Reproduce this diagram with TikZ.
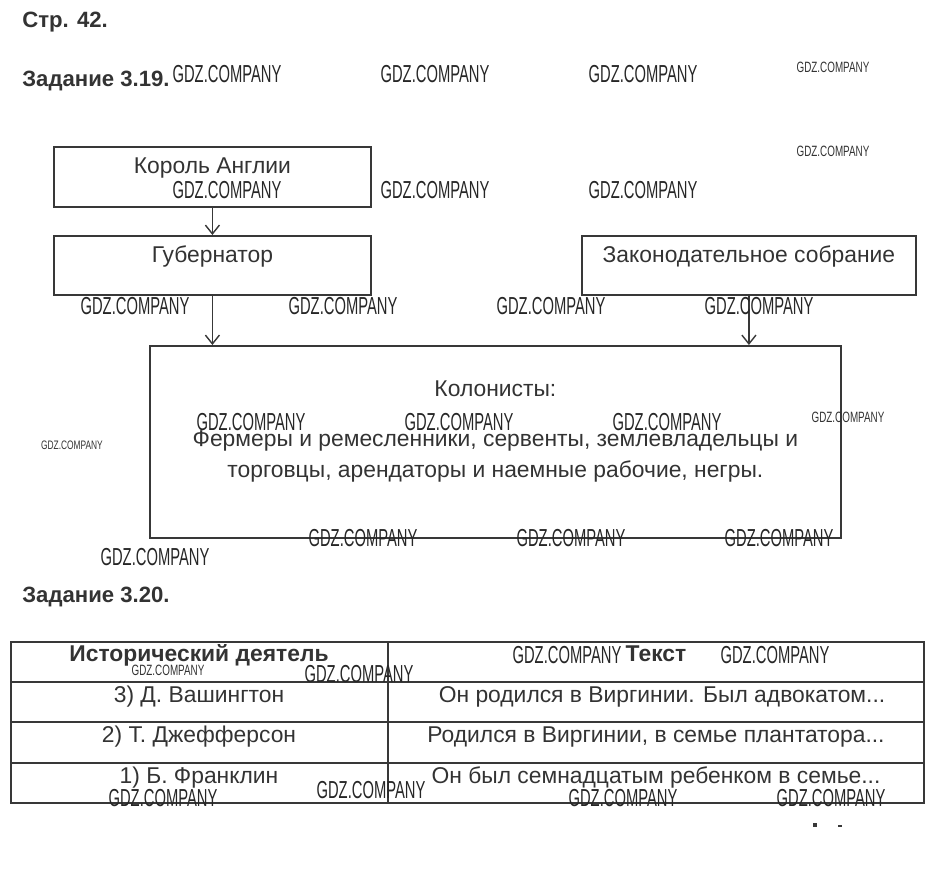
\documentclass[tikz,border=0pt]{standalone}
\usepackage{fontspec}
\setmainfont{Liberation Sans}
\usepackage{graphicx}
\usetikzlibrary{arrows.meta,positioning}
\definecolor{ink}{HTML}{333333}
\definecolor{rule}{HTML}{383838}
\newcommand{\gdzMark}[1]{\scalebox{#1}[1]{GDZ.COMPANY}}

\tikzset{
    box/.style={draw=rule, line width=1.1pt, anchor=north west, inner sep=0pt},
    boxtext/.style={text=ink, font=\fontsize{13}{15}\selectfont, anchor=base, inner sep=0pt},
    heading/.style={text=ink, font=\bfseries\fontsize{12.6}{15}\selectfont, anchor=base west, inner sep=0pt},
    cell/.style={text=ink, font=\fontsize{13}{15}\selectfont, anchor=base, inner sep=0pt},
    cellhead/.style={cell, font=\bfseries\fontsize{13}{15}\selectfont},
    link/.style={draw=rule, line width=0.8pt, -{Straight Barb[length=5pt,width=8pt]}},
    grid/.style={draw=rule, line width=0.6pt},
    wmbig/.style={text=black!85, font=\fontsize{14}{14}\selectfont, inner sep=0pt},
    wmsmall/.style={text=black!80, font=\fontsize{8.5}{9}\selectfont, inner sep=0pt},
    wmtiny/.style={text=black!80, font=\fontsize{7}{8}\selectfont, inner sep=0pt},
}

\begin{document}
\begin{tikzpicture}[x=0.02cm, y=-0.02cm]
    \useasboundingbox (0,0) rectangle (938,888);

    % headings
    \node [heading] (page)  at (22,28)  {Стр. 42.};
    \node [heading] (task1) at (22,87)  {Задание 3.19.};
    \node [heading] (task2) at (22,603) {Задание 3.20.};

    % scheme
    \node [box, minimum width=6.34cm, minimum height=1.2cm]  (king)     at (53,146)  {};
    \node [box, minimum width=6.34cm, minimum height=1.18cm] (governor) at (53,235)  {};
    \node [box, minimum width=6.68cm, minimum height=1.18cm] (assembly) at (581,235) {};
    \node [box, minimum width=13.82cm, minimum height=3.84cm] (colonists) at (149,345) {};

    \node [boxtext] (kingtxt)     at ([yshift=-0.56cm]king.north)     {Король Англии};
    \node [boxtext] (governortxt) at ([yshift=-0.56cm]governor.north) {Губернатор};
    \node [boxtext] (assemblytxt) at ([yshift=-0.56cm]assembly.north) {Законодательное собрание};
    \node [boxtext] (coltitle)    at ([yshift=-1.04cm]colonists.north) {Колонисты:};
    \node [boxtext] (colline1)    at ([yshift=-2.04cm]colonists.north) {Фермеры и ремесленники, сервенты, землевладельцы и};
    \node [boxtext] (colline2)    at ([yshift=-2.66cm]colonists.north) {торговцы, арендаторы и наемные рабочие, негры.};

    \draw [link] (king.south) -- (governor.north);
    \draw [link] (governor.south) -- (governor.south |- colonists.north);
    \draw [link] (assembly.south) -- (assembly.south |- colonists.north);

    % table
    \draw [grid] (11,642) rectangle (924,803);
    \foreach \r in {682,722,763}
        \draw [grid] (11,\r) -- (924,\r);
    \draw [grid] (388,642) -- (388,803);

    \node [cellhead] (hname) at (199,662) {Исторический деятель};
    \node [cellhead] (htext) at (656,662) {Текст};
    \node [cell] (name1) at (199,703) {3) Д. Вашингтон};
    \node [cell] (text1) at (662,703) {Он родился в Виргинии. Был адвокатом...};
    \node [cell] (name2) at (199,743) {2) Т. Джефферсон};
    \node [cell] (text2) at (656,743) {Родился в Виргинии, в семье плантатора...};
    \node [cell] (name3) at (199,784) {1) Б. Франклин};
    \node [cell] (text3) at (656,784) {Он был семнадцатым ребенком в семье...};

    % specks
    \fill [rule] (813,823) rectangle (817,827);
    \fill [rule] (838,825) rectangle (842,827);

    % watermarks
    \foreach \x/\y [count=\i] in {227/74, 435/74, 643/74, 227/190, 435/190, 643/190,
            135/306, 343/306, 551/306, 759/306, 251/422, 459/422, 667/422,
            363/538, 571/538, 779/538, 155/557, 359/674, 567/655, 775/655,
            163/798, 371/790, 623/798, 831/798}
        \node [wmbig] (wmb\i) at (\x,\y) {\gdzMark{0.6}};
    \foreach \x/\y [count=\i] in {833/67, 833/151, 848/417, 168/670}
        \node [wmsmall] (wms\i) at (\x,\y) {\gdzMark{0.66}};
    \node [wmtiny] (wmt) at (72,445) {\gdzMark{0.68}};
\end{tikzpicture}
\end{document}
